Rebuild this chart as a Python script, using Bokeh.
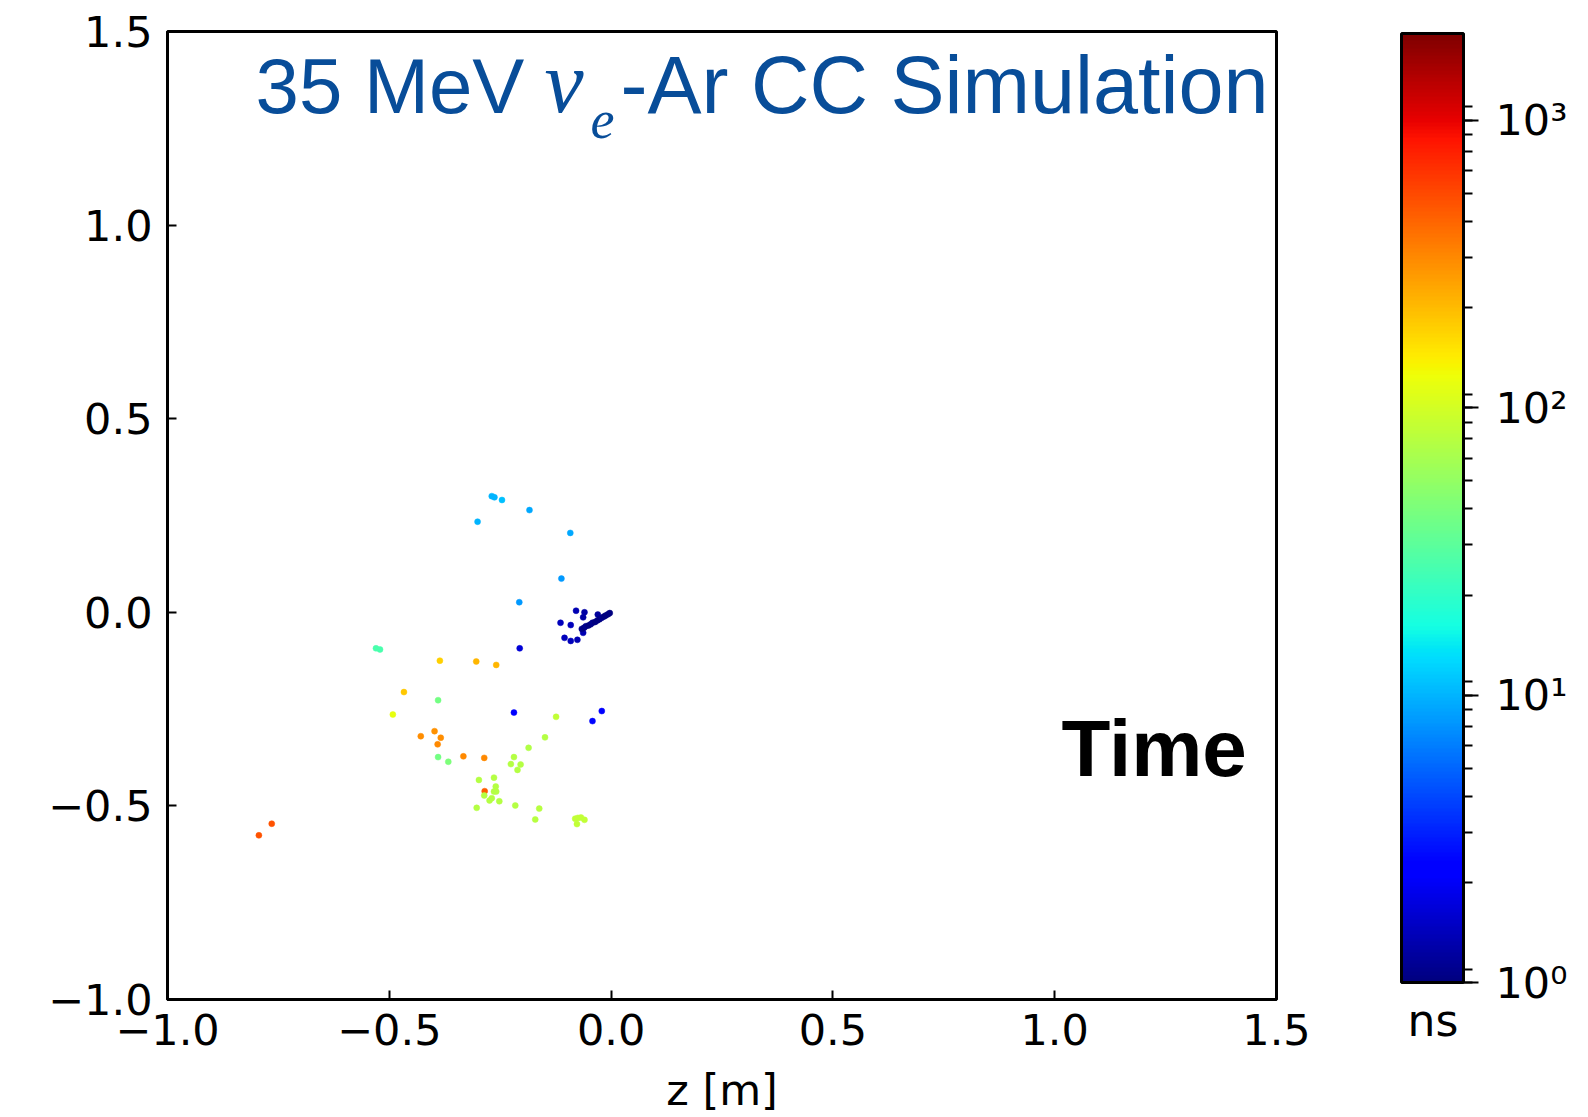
import numpy as np
from bokeh.plotting import figure
from bokeh.layouts import row
from bokeh.models import (Range1d, FixedTicker, LogTicker, LogColorMapper, ColorBar,
                          ColumnDataSource, Label, Title, CustomJSTickFormatter)
from bokeh.embed import file_html
from bokeh.resources import INLINE

# ---------------- data ----------------
z_m = [-0.269, -0.263, -0.246, -0.184, -0.301, -0.092, -0.112, -0.207,
       -0.079, -0.060, -0.063, -0.030, -0.114, -0.091, -0.063, -0.105, -0.091, -0.076,
       -0.066, -0.061, -0.057, -0.051, -0.046, -0.042, -0.036, -0.031, -0.026, -0.021,
       -0.016, -0.012, -0.007, -0.003,
       -0.206, -0.219, -0.021, -0.042,
       -0.530, -0.521,
       -0.386, -0.467, -0.304, -0.259,
       -0.390, -0.390, -0.367,
       -0.492,
       -0.398, -0.429, -0.384, -0.391, -0.333, -0.286,
       -0.285,
       -0.124, -0.149, -0.186, -0.219, -0.226, -0.204, -0.211, -0.298, -0.264, -0.260,
       -0.264, -0.259, -0.286, -0.274, -0.269, -0.252, -0.303, -0.216, -0.162, -0.171,
       -0.081, -0.075, -0.068, -0.060, -0.077,
       -0.765, -0.794]
y_m = [0.300, 0.297, 0.290, 0.264, 0.234, 0.205, 0.087, 0.026,
       0.004, 0.000, -0.013, -0.006, -0.027, -0.033, -0.053, -0.066, -0.074, -0.071,
       -0.043, -0.040, -0.036, -0.034, -0.031, -0.027, -0.025, -0.021, -0.018, -0.014,
       -0.011, -0.008, -0.005, -0.002,
       -0.093, -0.259, -0.255, -0.281,
       -0.093, -0.096,
       -0.125, -0.206, -0.127, -0.136,
       -0.227, -0.374, -0.386,
       -0.264,
       -0.307, -0.320, -0.324, -0.341, -0.372, -0.376,
       -0.462,
       -0.270, -0.323, -0.350, -0.374, -0.392, -0.393, -0.407, -0.433, -0.427, -0.450,
       -0.463, -0.463, -0.473, -0.486, -0.480, -0.488, -0.505, -0.499, -0.507, -0.535,
       -0.533, -0.531, -0.530, -0.536, -0.547,
       -0.546, -0.576]
t_ns = [10, 10, 11, 9, 10, 9, 8, 8,
        1.4, 1.3, 1.3, 1.2, 1.5, 1.5, 1.4, 1.5, 1.5, 1.4,
        1.1, 1.0, 1.1, 1.0, 1.0, 1.1, 1.0, 1.0, 1.0, 1.1,
        1.0, 1.0, 1.0, 1.0,
        1.8, 2.6, 2.6, 2.7,
        28, 28,
        190, 200, 230, 230,
        42, 42, 45,
        120,
        310, 320, 320, 330, 330, 330,
        470,
        85, 75, 72, 75, 75, 75, 75, 75, 75, 75,
        75, 75, 75, 75, 75, 75, 75, 75, 78, 78,
        85, 85, 85, 85, 85,
        520, 520]

x_ticks = [-1.0, -0.5, 0.0, 0.5, 1.0, 1.5]
y_ticks = [-1.0, -0.5, 0.0, 0.5, 1.0, 1.5]
cbar_labels = {1: "10\u2070", 10: "10\u00b9", 100: "10\u00b2", 1000: "10\u00b3"}
t_low, t_high = 1.0, 2000.0

# ---------------- jet palette ----------------
def jet(n=256):
    s = np.linspace(0, 1, n)
    r = np.interp(s, [0, 0.35, 0.66, 0.89, 1], [0, 0, 1, 1, 0.5])
    g = np.interp(s, [0, 0.125, 0.375, 0.64, 0.91, 1], [0, 0, 1, 1, 0, 0])
    b = np.interp(s, [0, 0.11, 0.34, 0.65, 1], [0.5, 1, 1, 0, 0])
    return ["#%02x%02x%02x" % (int(round(a * 255)), int(round(c * 255)), int(round(d * 255)))
            for a, c, d in zip(r, g, b)]

W, H = 1588, 1117
W1 = 1330                      # main figure width; colour-bar figure takes the rest
FL, FR, FT, FB = 167, 1276, 31, 999
BASE_FIX = 0.35                # baseline correction (fraction of font size)

p = figure(width=W1, height=H, x_range=Range1d(-1.0, 1.5), y_range=Range1d(-1.0, 1.5),
           output_backend="svg", toolbar_location=None,
           min_border_left=FL, min_border_right=W1 - FR, min_border_top=FT,
           min_border_bottom=H - FB)
p.xgrid.visible = False
p.ygrid.visible = False
p.outline_line_color = "black"
p.outline_line_width = 3
p.background_fill_color = "white"
p.border_fill_color = "white"

fmt = CustomJSTickFormatter(code="return tick.toFixed(1).replace('-', '\u2212');")
for ax, ticks in ((p.xaxis[0], x_ticks), (p.yaxis[0], y_ticks)):
    ax.ticker = FixedTicker(ticks=ticks)
    ax.formatter = fmt
    ax.axis_line_width = 3
    ax.axis_line_color = "black"
    ax.major_tick_in = 9
    ax.major_tick_out = 0
    ax.major_tick_line_width = 2
    ax.major_tick_line_color = "black"
    ax.minor_tick_in = 0
    ax.minor_tick_out = 0
    ax.major_label_text_font = "DejaVu Sans"
    ax.major_label_text_font_size = "43px"
    ax.major_label_text_color = "black"
p.xaxis.major_label_standoff = 14
p.yaxis.major_label_standoff = 15
p.xaxis.axis_label = "z [m]"
p.xaxis.axis_label_text_font = "DejaVu Sans"
p.xaxis.axis_label_text_font_size = "43px"
p.xaxis.axis_label_text_font_style = "normal"
p.xaxis.axis_label_text_color = "black"
p.xaxis.axis_label_standoff = 17

mapper = LogColorMapper(palette=jet(), low=t_low, high=t_high)
src = ColumnDataSource(dict(z=z_m, y=y_m, t=t_ns))
p.scatter("z", "y", source=src, size=6,
          fill_color={"field": "t", "transform": mapper},
          line_color={"field": "t", "transform": mapper}, line_width=0.5)

def dx(px):
    return (px - FL) / (FR - FL) * 2.5 - 1.0

def dy(py, fs=0):
    py = py - BASE_FIX * fs
    return (FB - py) / (FB - FT) * 2.5 - 1.0

blue = "#084d99"
p.add_layout(Label(x=dx(255), y=dy(113, 78), text="35 MeV", text_font="Liberation Sans",
                   text_font_size="78px", text_color=blue, text_baseline="alphabetic"))
p.add_layout(Label(x=dx(544), y=dy(113, 88), text="\u03bd", text_font="Liberation Serif",
                   text_font_style="italic", text_font_size="88px", text_color=blue,
                   text_baseline="alphabetic"))
p.add_layout(Label(x=dx(590), y=dy(138, 54), text="e", text_font="Liberation Serif",
                   text_font_style="italic", text_font_size="54px", text_color=blue,
                   text_baseline="alphabetic"))
p.add_layout(Label(x=dx(620), y=dy(113, 81), text="-Ar CC Simulation", text_font="Liberation Sans",
                   text_font_size="81px", text_color=blue, text_baseline="alphabetic"))
p.add_layout(Label(x=dx(1061), y=dy(776, 80), text="Time", text_font="Liberation Sans",
                   text_font_style="bold", text_font_size="80px", text_color="black",
                   text_baseline="alphabetic"))

# ---------------- colour-bar figure ----------------
W2 = W - W1
q = figure(width=W2, height=H, x_range=Range1d(0, W2), y_range=Range1d(H - FB, H - FT),
           output_backend="svg", toolbar_location=None,
           x_axis_type=None, y_axis_type=None,
           min_border_left=0, min_border_right=0, min_border_top=FT,
           min_border_bottom=H - FB)
q.xgrid.visible = False
q.ygrid.visible = False
q.outline_line_color = None
q.background_fill_color = "white"
q.border_fill_color = "white"

CB_L, CB_T, CB_B = 1401, 33, 982
cb = ColorBar(color_mapper=mapper, ticker=LogTicker(num_minor_ticks=9),
              width=62, height=CB_B - CB_T, location=(CB_L - W1, FB - CB_B),
              padding=0, margin=0,
              bar_line_color="black", bar_line_width=3,
              major_tick_line_color="black", major_tick_line_width=2,
              major_tick_in=0, major_tick_out=15,
              minor_tick_line_color="black", minor_tick_line_width=2,
              minor_tick_in=0, minor_tick_out=9,
              major_label_text_font="DejaVu Sans", major_label_text_font_size="43px",
              major_label_text_color="black", label_standoff=17,
              major_label_overrides=cbar_labels,
              background_fill_alpha=0.0)
q.add_layout(cb, "center")
q.add_layout(Title(text="ns", align="left", offset=1407 - W1, standoff=-10,
                   vertical_align="top", text_font="DejaVu Sans", text_font_size="44px",
                   text_font_style="normal", text_color="black"), "below")

layout = row(p, q, spacing=0)
open("out.html", "w").write(file_html(layout, INLINE))
